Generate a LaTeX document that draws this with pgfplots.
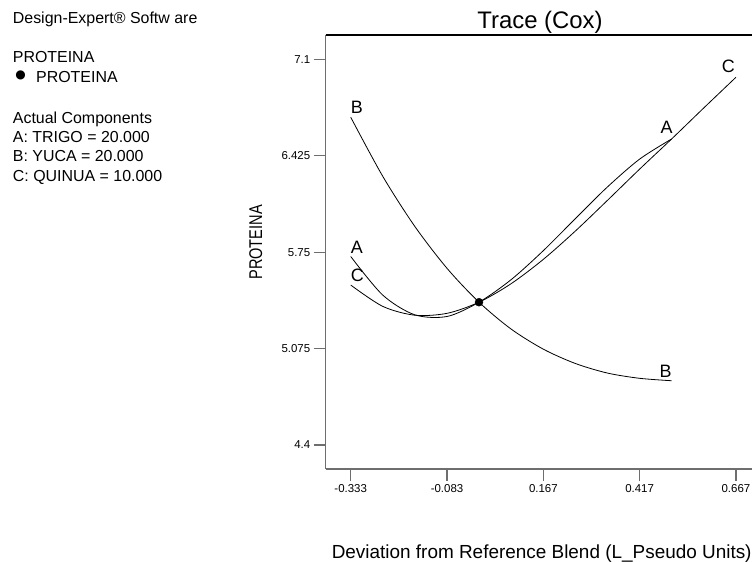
\documentclass[border=0pt]{standalone}
\usepackage{fontspec}
\setmainfont{Liberation Sans}
\newfontfamily\dejavu{DejaVu Sans}
\usepackage{pgfplots}
\pgfplotsset{compat=1.18}
\newcommand\fsz[1]{\fontsize{#1}{#1}\selectfont}
\definecolor{axgray}{RGB}{110,110,110}
\begin{document}
\begin{tikzpicture}
\path[use as bounding box] (0,0) rectangle (752bp,562bp);
% left info text
\node[anchor=base west, inner sep=0, font=\fsz{16}] at (12.7bp,538bp) {Design-Expert® Softw are};
\node[anchor=base west, inner sep=0, font=\fsz{16}] at (12.7bp,499bp) {PROTEINA};
\node[inner sep=0, font=\dejavu\fsz{12}] at (20.5bp,487bp) {●};
\node[anchor=base west, inner sep=0, font=\fsz{16}] at (36bp,479bp) {PROTEINA};
\node[anchor=base west, inner sep=0, font=\fsz{16}] at (12.7bp,438bp) {Actual Components};
\node[anchor=base west, inner sep=0, font=\fsz{16}] at (12.7bp,419bp) {A: TRIGO = 20.000};
\node[anchor=base west, inner sep=0, font=\fsz{16}] at (12.7bp,400bp) {B: YUCA = 20.000};
\node[anchor=base west, inner sep=0, font=\fsz{16}] at (12.7bp,380bp) {C: QUINUA = 10.000};
\begin{axis}[
  at={(325.7bp,93bp)}, anchor=south west,
  scale only axis, width=435.3bp, height=434bp,
  xmin=-0.398, xmax=0.732, ymin=4.232, ymax=7.271,
  axis x line*=bottom, axis y line*=left,
  axis line style={draw=axgray, line width=1.3bp, -},
  tick align=outside, major tick length=12bp,
  tick style={draw=axgray, line width=1.1bp},
  xtick={-0.333,-0.083,0.167,0.417,0.667},
  xticklabels={-0.333,-0.083,0.167,0.417,0.667},
  ytick={4.4,5.075,5.75,6.425,7.1},
  yticklabels={4.4,5.075,5.75,6.425,7.1},
  ticklabel style={font=\fsz{11.5}},
  clip=false,
]
\draw[black, line width=1.3bp] (rel axis cs:0,1) -- (rel axis cs:1,1);
% B trace
\addplot[black, line width=0.8bp, smooth] coordinates {
 (-0.333,6.695) (-0.25,6.282) (-0.167,5.932) (-0.083,5.637) (0,5.40)
 (0.083,5.2125) (0.167,5.071) (0.25,4.971) (0.333,4.904) (0.417,4.867) (0.5,4.85)};
% A trace
\addplot[black, line width=0.8bp, smooth] coordinates {
 (-0.333,5.72) (-0.25,5.45) (-0.167,5.312) (-0.083,5.300) (0,5.40)
 (0.083,5.557) (0.167,5.761) (0.25,5.985) (0.333,6.206) (0.417,6.402) (0.5,6.543)};
% C trace
\addplot[black, line width=0.8bp, smooth] coordinates {
 (-0.333,5.52) (-0.25,5.371) (-0.167,5.309) (-0.083,5.322) (0,5.40)
 (0.083,5.529) (0.167,5.700) (0.25,5.898) (0.333,6.112) (0.417,6.332) (0.5,6.543)
 (0.583,6.759) (0.667,6.975)};
% reference point
\addplot[only marks, mark=*, mark size=4bp, black] coordinates {(0,5.40)};
\end{axis}
% curve labels
\node[anchor=base west, inner sep=0, font=\fsz{18}] at (350.7bp,448.7bp) {B};
\node[anchor=base west, inner sep=0, font=\fsz{18}] at (350.7bp,308.7bp) {A};
\node[anchor=base west, inner sep=0, font=\fsz{18}] at (350.7bp,280.3bp) {C};
\node[anchor=base east, inner sep=0, font=\fsz{18}] at (672.7bp,428.7bp) {A};
\node[anchor=base east, inner sep=0, font=\fsz{18}] at (671.7bp,184.7bp) {B};
\node[anchor=base east, inner sep=0, font=\fsz{18}] at (735bp,489.3bp) {C};
% title and axis labels
\node[anchor=base, inner sep=0, font=\fsz{24}] at (540bp,533bp) {Trace (Cox)};
\node[anchor=base, inner sep=0, font=\fsz{19}] at (541.7bp,3.7bp) {Deviation from Reference Blend (L\_Pseudo Units)};
\node[anchor=base, inner sep=0, rotate=90, font=\fsz{18.5}, xscale=0.79] at (262bp,319.5bp) {PROTEINA};
\end{tikzpicture}
\end{document}
